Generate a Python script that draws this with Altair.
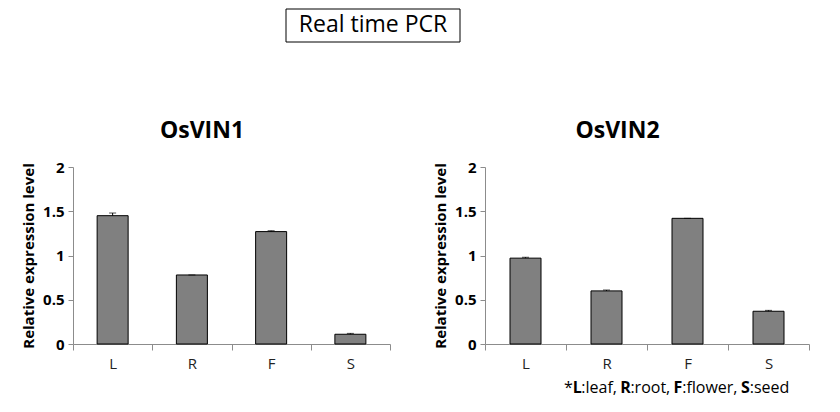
import altair as alt
import pandas as pd

tissues = ["L", "R", "F", "S"]
vin1 = [1.45, 0.78, 1.27, 0.11]
vin1_err = [0.03, 0.0, 0.01, 0.01]
vin2 = [0.97, 0.60, 1.42, 0.37]
vin2_err = [0.01, 0.01, 0.0, 0.01]
y_ticks = [0, 0.5, 1, 1.5, 2]
FONT = "Open Sans"


def make_df(vals, errs):
    return pd.DataFrame({"tissue": tissues, "value": vals,
                         "hi": [v + e for v, e in zip(vals, errs)]})


def panel(vals, errs, title, width, title_x):
    df = make_df(vals, errs)
    x = alt.X("tissue:N", sort=tissues,
              scale=alt.Scale(paddingInner=0, paddingOuter=0),
              axis=alt.Axis(title=None, labelAngle=0, tickBand="extent", tickSize=6,
                            labelFontSize=15, labelFont=FONT, labelColor="#222",
                            labelPadding=6, domainColor="#8c8c8c", tickColor="#8c8c8c"))
    y = alt.Y("value:Q", scale=alt.Scale(domain=[0, 2], nice=False),
              axis=alt.Axis(values=y_ticks, format="~g", grid=False, tickSize=5,
                            labelFontSize=15, labelFontWeight="bold", labelFont=FONT,
                            labelColor="black", labelPadding=4,
                            domainColor="#8c8c8c", tickColor="#8c8c8c",
                            title="Relative expression level", titleFont=FONT,
                            titleFontSize=15, titleFontWeight="bold", titleColor="black",
                            titlePadding=6))
    base = alt.Chart(df)
    bars = base.mark_bar(size=31, color="#808080", stroke="black", strokeWidth=1).encode(x=x, y=y)
    err = base.mark_rule(color="black", strokeWidth=1).encode(x=x, y="value:Q", y2="hi:Q")
    cap = base.mark_tick(color="black", size=7, thickness=1).encode(x=x, y="hi:Q")
    ttl = alt.Chart(pd.DataFrame({"t": [title]})).mark_text(
        fontSize=23, fontWeight="bold", font=FONT, color="black",
        baseline="alphabetic").encode(x=alt.value(title_x), y=alt.value(-29), text="t:N")
    return alt.layer(bars, err, cap, ttl).properties(width=width, height=177)


left = panel(vin1, vin1_err, "OsVIN1", 317, 129)
right = panel(vin2, vin2_err, "OsVIN2", 324, 132.5)

# header box (decorative, in left panel pixel space)
hdr = pd.DataFrame({"t": ["Real time PCR"]})
box = alt.Chart(hdr).mark_rect(fill="white", stroke="black", strokeWidth=1).encode(
    x=alt.value(213), x2=alt.value(387), y=alt.value(-158), y2=alt.value(-125))
hdr_text = alt.Chart(hdr).mark_text(fontSize=23, font=FONT, color="black").encode(
    x=alt.value(300), y=alt.value(-142), text="t:N")
left = alt.layer(left, box, hdr_text)

# footnote in right panel
segs = [("*", "normal", 79), ("L", "bold", 87.7), (":leaf,", "normal", 96.3),
        ("R", "bold", 135.3), (":root,", "normal", 145.4), ("F", "bold", 188.6),
        (":flower,", "normal", 197.2), ("S", "bold", 256), (":seed", "normal", 264.7)]
foot_layers = []
for txt, wt, xx in segs:
    foot_layers.append(
        alt.Chart(pd.DataFrame({"t": [txt]})).mark_text(
            fontSize=16, font=FONT, fontWeight=wt, color="black", align="left",
            baseline="middle").encode(x=alt.value(xx), y=alt.value(221), text="t:N"))
right = alt.layer(right, *foot_layers)

chart = alt.hconcat(left, right, spacing=95, bounds="flush").properties(
    padding={"left": 13, "top": 0, "right": 0, "bottom": 6}
).configure_view(stroke=None)

chart.save("out.html", embed_options={"renderer": "svg", "actions": False})
